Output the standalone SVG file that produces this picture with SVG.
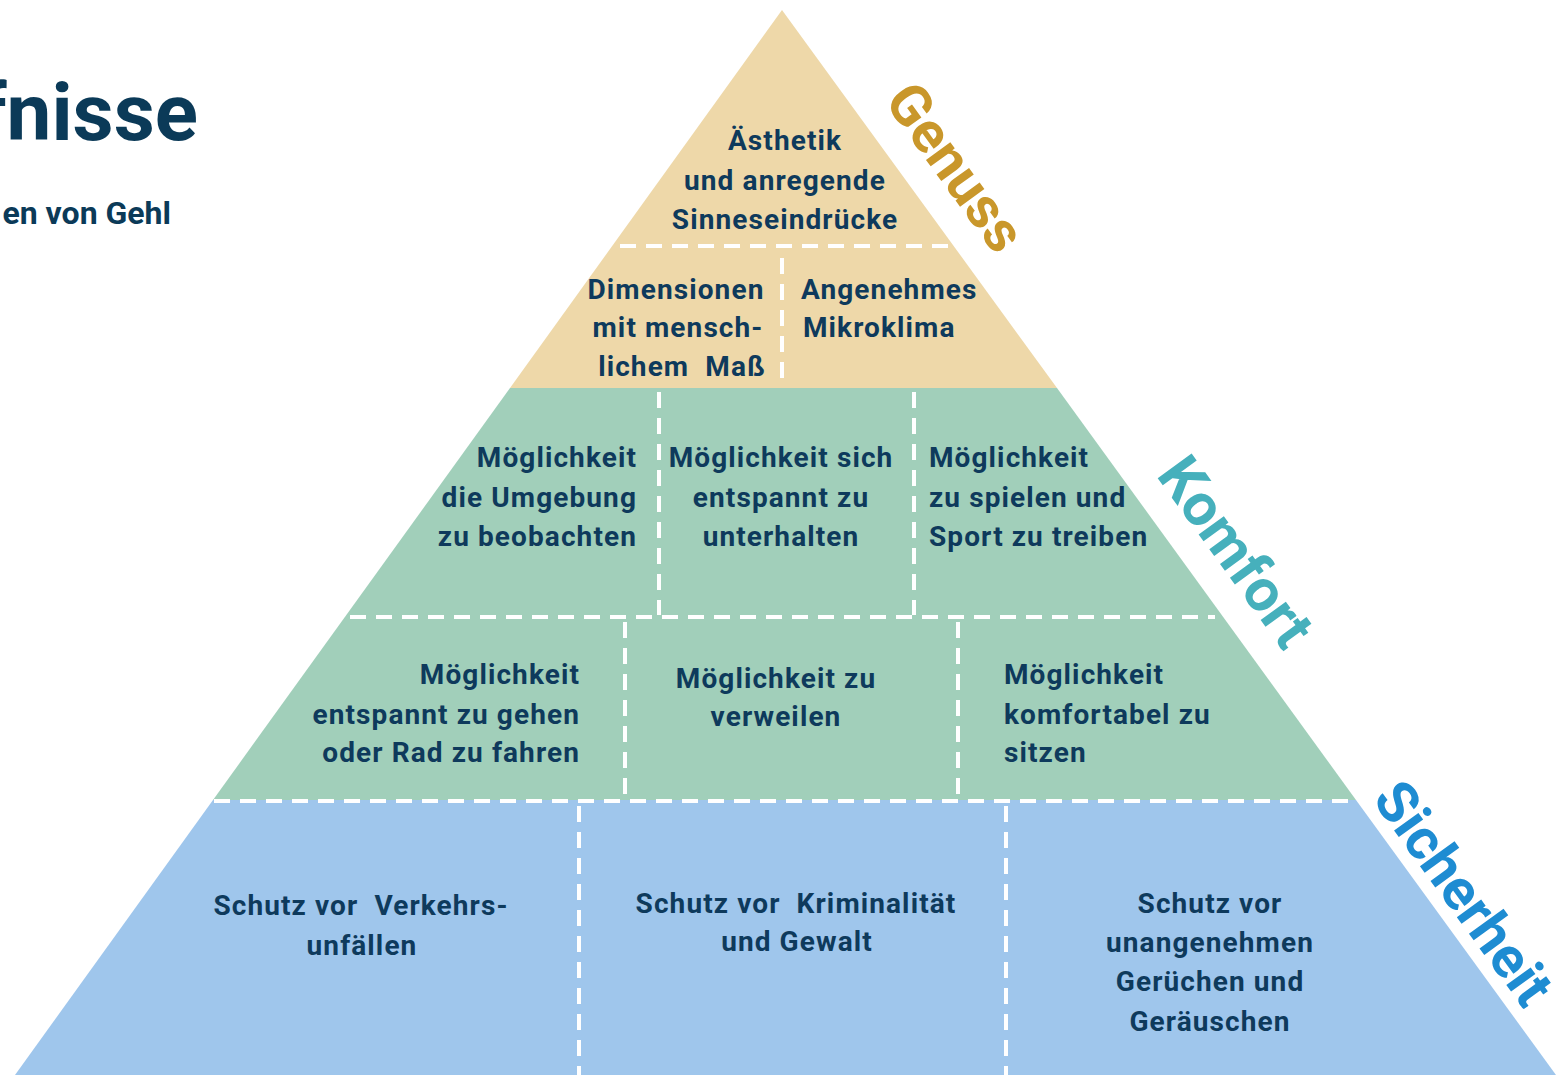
<svg xmlns="http://www.w3.org/2000/svg" width="1565" height="1075" viewBox="0 0 1565 1075">
<style>
.t{font-family:Roboto,"Liberation Sans",sans-serif;font-weight:700;font-size:28px;fill:#0E3A5C;letter-spacing:1.1px;white-space:pre}
.c{text-anchor:middle}.r{text-anchor:end}
.d{stroke:#fff;stroke-width:4;stroke-dasharray:16 10;fill:none}
.lab{font-family:Roboto,"Liberation Sans",sans-serif;font-weight:700;text-anchor:middle}
</style>
<rect width="1565" height="1075" fill="#fff"/>
<g id="title">
<text x="198" y="140" font-family="Roboto,'Liberation Sans',sans-serif" font-weight="700" font-size="80" fill="#0B3A58" text-anchor="end">fnisse</text>
<text x="171" y="224" font-family="Roboto,'Liberation Sans',sans-serif" font-weight="700" font-size="32" fill="#0B3A58" text-anchor="end">en von Gehl</text>
</g>
<g id="layers">
<polygon id="genuss-layer" points="782,10 1057,388 510,388" fill="#EED8A9"/>
<polygon id="komfort-layer" points="510,388 1057,388 1356,800 213,800" fill="#A1CFBA"/>
<polygon id="sicherheit-layer" points="213,800 1356,800 1556,1075 15,1075" fill="#9FC6EC"/>
</g>
<g id="connectors">
<line class="d" x1="620" y1="246" x2="950" y2="246"/>
<line class="d" x1="782" y1="258" x2="782" y2="388"/>
<line class="d" x1="659" y1="392" x2="659" y2="615"/>
<line class="d" x1="914" y1="392" x2="914" y2="615"/>
<line class="d" x1="350" y1="617" x2="1215" y2="617"/>
<line class="d" x1="625" y1="622" x2="625" y2="800"/>
<line class="d" x1="958" y1="622" x2="958" y2="800"/>
<line class="d" x1="214" y1="801" x2="1352" y2="801"/>
<line class="d" x1="579" y1="806" x2="579" y2="1075"/>
<line class="d" x1="1006" y1="806" x2="1006" y2="1075"/>
</g>
<g id="n-aesthetik"><text class="t c" xml:space="preserve"><tspan x="785" y="150">Ästhetik</tspan><tspan x="785" y="190">und anregende</tspan><tspan x="785" y="229">Sinneseindrücke</tspan></text></g>
<g id="n-dimensionen"><text class="t c" xml:space="preserve"><tspan x="676" y="299">Dimensionen</tspan><tspan x="678" y="337">mit mensch-</tspan><tspan x="682" y="376">lichem  Maß</tspan></text></g>
<g id="n-mikroklima"><text class="t" xml:space="preserve"><tspan x="801" y="299">Angenehmes</tspan><tspan x="803" y="337">Mikroklima</tspan></text></g>
<g id="n-umgebung"><text class="t r" xml:space="preserve"><tspan x="637" y="467">Möglichkeit</tspan><tspan x="637" y="507">die Umgebung</tspan><tspan x="637" y="546">zu beobachten</tspan></text></g>
<g id="n-unterhalten"><text class="t c" xml:space="preserve"><tspan x="781" y="467">Möglichkeit sich</tspan><tspan x="781" y="507">entspannt zu</tspan><tspan x="781" y="546">unterhalten</tspan></text></g>
<g id="n-spielen"><text class="t" xml:space="preserve"><tspan x="929" y="467">Möglichkeit</tspan><tspan x="929" y="507">zu spielen und</tspan><tspan x="929" y="546">Sport zu treiben</tspan></text></g>
<g id="n-gehen"><text class="t r" xml:space="preserve"><tspan x="580" y="684">Möglichkeit</tspan><tspan x="580" y="724">entspannt zu gehen</tspan><tspan x="580" y="762">oder Rad zu fahren</tspan></text></g>
<g id="n-verweilen"><text class="t c" xml:space="preserve"><tspan x="776" y="688">Möglichkeit zu</tspan><tspan x="776" y="726">verweilen</tspan></text></g>
<g id="n-sitzen"><text class="t" xml:space="preserve"><tspan x="1004" y="684">Möglichkeit</tspan><tspan x="1004" y="724">komfortabel zu</tspan><tspan x="1004" y="762">sitzen</tspan></text></g>
<g id="n-verkehr"><text class="t c" xml:space="preserve"><tspan x="361" y="915">Schutz vor  Verkehrs-</tspan><tspan x="362" y="955">unfällen</tspan></text></g>
<g id="n-kriminalitaet"><text class="t c" xml:space="preserve"><tspan x="796" y="913">Schutz vor  Kriminalität</tspan><tspan x="797" y="951">und Gewalt</tspan></text></g>
<g id="n-gerueche"><text class="t c" xml:space="preserve"><tspan x="1210" y="913">Schutz vor</tspan><tspan x="1210" y="952">unangenehmen</tspan><tspan x="1210" y="991">Gerüchen und</tspan><tspan x="1210" y="1031">Geräuschen</tspan></text></g>
<g id="l-genuss"><text class="lab" fill="#C9972B" font-size="57" transform="translate(956,167) rotate(54)" y="20">Genuss</text></g>
<g id="l-komfort"><text class="lab" fill="#46B0BC" font-size="59" transform="translate(1236,552) rotate(54)" y="20">Komfort</text></g>
<g id="l-sicherheit"><text class="lab" fill="#1E8CD2" font-size="57" transform="translate(1464,893) rotate(54)" y="20">Sicherheit</text></g>
</svg>
